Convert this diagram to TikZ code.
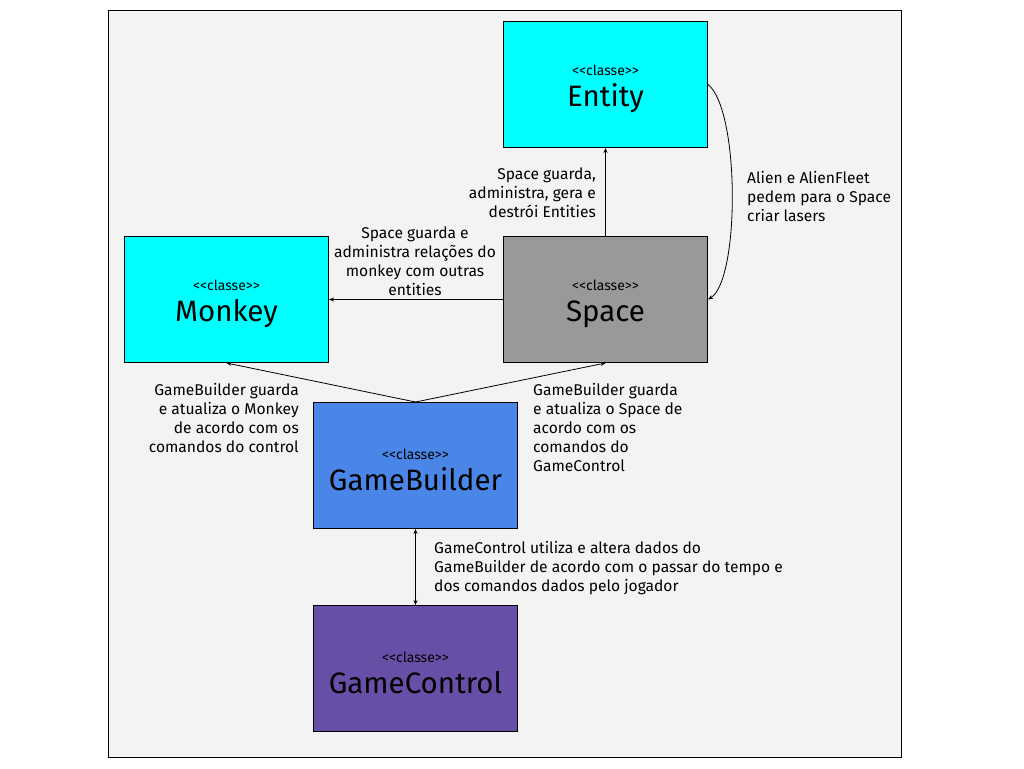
\documentclass[tikz,border=0pt]{standalone}
\usepackage{fontspec}
\setmainfont{Fira Sans}
\usetikzlibrary{arrows.meta}
\definecolor{bgc}{HTML}{F3F3F3}
\definecolor{cyanc}{HTML}{00FFFF}
\definecolor{grayc}{HTML}{999999}
\definecolor{bluec}{HTML}{4A86E8}
\definecolor{purplec}{HTML}{674EA7}
\begin{document}
\begin{tikzpicture}[x=1pt,y=-1pt,
  classbox/.style={draw=black,line width=1pt,minimum width=204pt,minimum height=126pt,inner sep=0pt,anchor=north west,align=center,font=\fontsize{29.5}{30}\selectfont},
  conn/.style={draw=black,line width=0.8pt,-{Stealth[length=5pt,width=4pt]}},
  lbl/.style={font=\fontsize{15.6}{19}\selectfont,inner sep=0pt}]
\useasboundingbox (0,0) rectangle (1024,768);
\node[draw=black,line width=0.8pt,fill=bgc,minimum width=793pt,minimum height=747pt,anchor=north west,inner sep=0pt] (bg) at (108,10) {};
\newcommand{\cls}[1]{{\fontsize{14}{14}\selectfont\rule{0pt}{19pt}<{}<classe>{}>}\\[1.5pt]#1}
\node[classbox,fill=cyanc] (entity) at (503,21) {\cls{Entity}};
\node[classbox,fill=cyanc] (monkey) at (124,236) {\cls{Monkey}};
\node[classbox,fill=grayc] (space) at (503,236) {\cls{Space}};
\node[classbox,fill=bluec] (builder) at (313,402) {\cls{GameBuilder}};
\node[classbox,fill=purplec] (control) at (313,605) {\cls{GameControl}};
\draw[conn] (space.north) -- (entity.south);
\draw[conn] (space.west) -- (monkey.east);
\draw[conn] (builder.north) -- (monkey.south);
\draw[conn] (builder.north) -- (space.south);
\draw[conn,{Stealth[length=5pt,width=4pt]}-{Stealth[length=5pt,width=4pt]}] (builder.south) -- (control.north);
\draw[conn] (entity.east) .. controls (740,110) and (740,280) .. (space.east);
\node[lbl,align=right,anchor=north east] (l1) at (596,168) {Space guarda,\\administra, gera e\\destrói Entities};
\node[lbl,align=center,anchor=north] (l2) at (415,227) {Space guarda e\\administra relações do\\monkey com outras\\entities};
\node[lbl,align=right,anchor=north east] (l3) at (299,383) {GameBuilder guarda\\e atualiza o Monkey\\de acordo com os\\comandos do control};
\node[lbl,align=left,anchor=north west] (l4) at (533,383) {GameBuilder guarda\\e atualiza o Space de\\acordo com os\\comandos do\\GameControl};
\node[lbl,align=left,anchor=north west] (l5) at (434,541) {GameControl utiliza e altera dados do\\GameBuilder de acordo com o passar do tempo e\\dos comandos dados pelo jogador};
\node[lbl,align=left,anchor=north west] (l6) at (747,171) {Alien e AlienFleet\\pedem para o Space\\criar lasers};
\end{tikzpicture}
\end{document}
